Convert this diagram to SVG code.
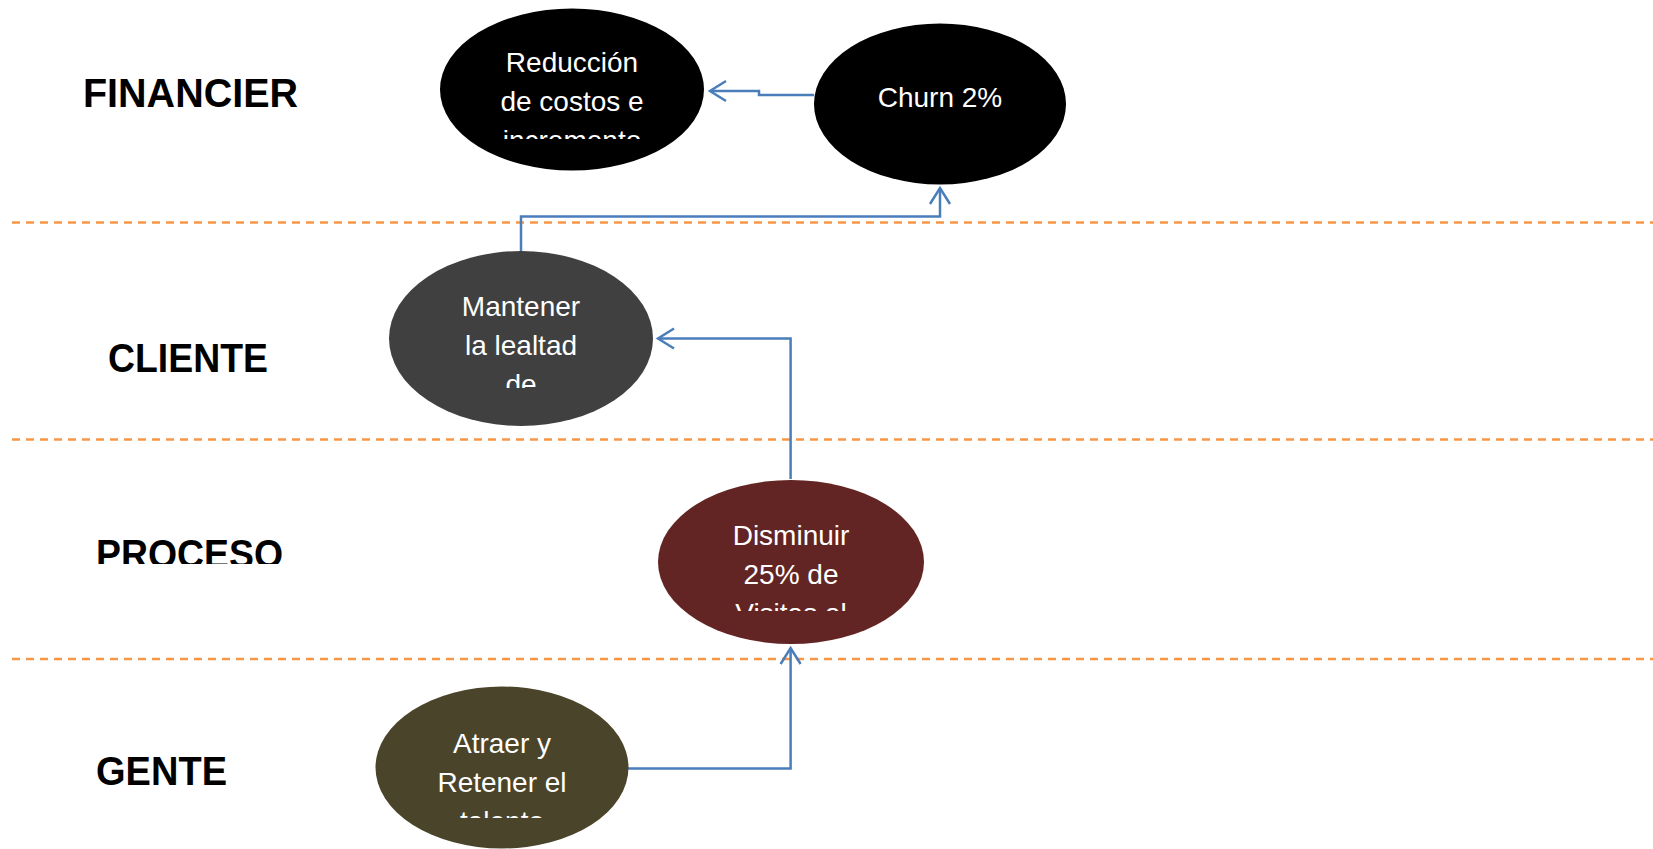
<svg xmlns="http://www.w3.org/2000/svg" width="1653" height="849" viewBox="0 0 1653 849">
  <style>
    .lane { stroke: #F79646; stroke-width: 2.4; stroke-dasharray: 8 6; fill: none; }
    .label { font-family: "Liberation Sans", Arial, sans-serif; font-weight: bold; font-size: 40px; fill: #000; }
    .ntext { font-family: "Liberation Sans", Arial, sans-serif; font-size: 28px; fill: #fff; text-anchor: middle; }
    .conn { stroke: #4A7EBB; stroke-width: 2.5; fill: none; marker-end: url(#arrow); }
  </style>
  <defs>
    <marker id="arrow" markerUnits="userSpaceOnUse" markerWidth="24" markerHeight="24" viewBox="-20 -12 24 24" refX="0" refY="0" orient="auto">
      <path d="M-16,-10 L0,0 L-16,10" fill="none" stroke="#4A7EBB" stroke-width="2.5"/>
    </marker>
    <clipPath id="clipRed"><rect x="440" y="0" width="264" height="139"/></clipPath>
    <clipPath id="clipMan"><rect x="389" y="250" width="264" height="138"/></clipPath>
    <clipPath id="clipDis"><rect x="659" y="480" width="264" height="131"/></clipPath>
    <clipPath id="clipAtr"><rect x="375" y="690" width="254" height="128"/></clipPath>
    <clipPath id="clipProc"><rect x="80" y="500" width="240" height="64"/></clipPath>
  </defs>

  <rect width="1653" height="849" fill="#fff"/>

  <!-- lane separators -->
  <g id="lanes">
    <line class="lane" x1="12" y1="222.5" x2="1653" y2="222.5"/>
    <line class="lane" x1="12" y1="439.5" x2="1653" y2="439.5"/>
    <line class="lane" x1="12" y1="659" x2="1653" y2="659"/>
  </g>

  <!-- perspective labels -->
  <g id="labels">
    <text class="label" x="83" y="107" textLength="215" lengthAdjust="spacingAndGlyphs">FINANCIER</text>
    <text class="label" x="108" y="372" textLength="160" lengthAdjust="spacingAndGlyphs">CLIENTE</text>
    <text class="label" x="96" y="568" textLength="187" lengthAdjust="spacingAndGlyphs" clip-path="url(#clipProc)">PROCESO</text>
    <text class="label" x="96" y="785" textLength="131" lengthAdjust="spacingAndGlyphs">GENTE</text>
  </g>

  <!-- connectors -->
  <g id="connectors">
    <polyline class="conn" points="814,95 759,95 759,91 710,91"/>
    <polyline class="conn" points="521,251 521,216.5 940,216.5 940,188"/>
    <polyline class="conn" points="790.6,479 790.6,338.5 658,338.5"/>
    <polyline class="conn" points="628,768.5 790.6,768.5 790.6,648"/>
  </g>

  <!-- nodes -->
  <g id="node-reduccion">
    <ellipse cx="572" cy="89.5" rx="132" ry="81" fill="#000"/>
    <g clip-path="url(#clipRed)">
      <text class="ntext" x="572" y="71.5">Reducción</text>
      <text class="ntext" x="572" y="110.5">de costos e</text>
      <text class="ntext" x="572" y="149.5">incremento</text>
    </g>
  </g>

  <g id="node-churn">
    <ellipse cx="940" cy="104" rx="126" ry="80.5" fill="#000"/>
    <text class="ntext" x="940" y="106.5">Churn 2%</text>
  </g>

  <g id="node-mantener">
    <ellipse cx="521" cy="338.5" rx="132" ry="87.5" fill="#404040"/>
    <g clip-path="url(#clipMan)">
      <text class="ntext" x="521" y="316">Mantener</text>
      <text class="ntext" x="521" y="355">la lealtad</text>
      <text class="ntext" x="521" y="394">de</text>
    </g>
  </g>

  <g id="node-disminuir">
    <ellipse cx="791" cy="562" rx="133" ry="82" fill="#632523"/>
    <g clip-path="url(#clipDis)">
      <text class="ntext" x="791" y="545">Disminuir</text>
      <text class="ntext" x="791" y="584">25% de</text>
      <text class="ntext" x="791" y="623">Visitas al</text>
    </g>
  </g>

  <g id="node-atraer">
    <ellipse cx="502" cy="767.5" rx="126.5" ry="81" fill="#4A452A"/>
    <g clip-path="url(#clipAtr)">
      <text class="ntext" x="502" y="752.5">Atraer y</text>
      <text class="ntext" x="502" y="791.5">Retener el</text>
      <text class="ntext" x="502" y="830.5">talento</text>
    </g>
  </g>
</svg>
